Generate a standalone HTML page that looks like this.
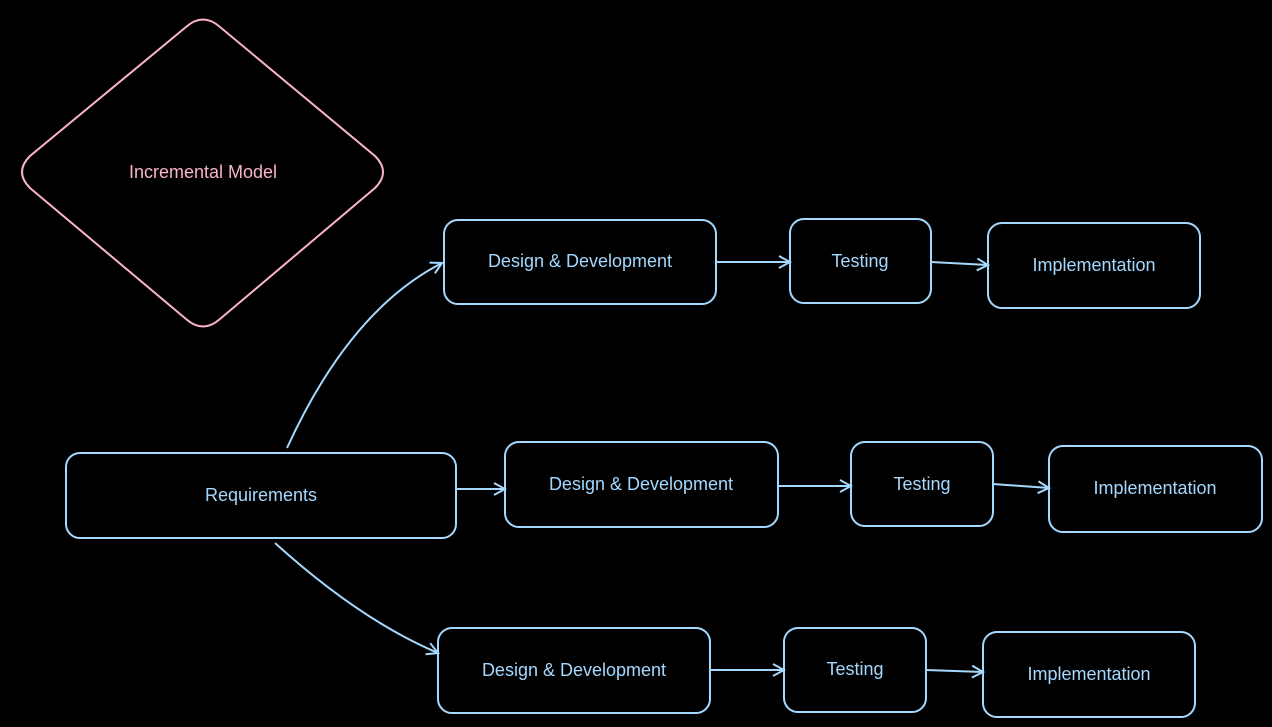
<!DOCTYPE html>
<html><head><meta charset="utf-8"><style>
html,body{margin:0;padding:0;background:#000;width:1272px;height:727px;overflow:hidden}
svg{display:block}
text{font-family:"Liberation Sans",sans-serif;font-size:18px;fill:#a5d8ff;text-anchor:middle;dominant-baseline:middle}
</style></head><body>
<svg width="1272" height="727" viewBox="0 0 1272 727">
<defs>
<marker id="a" markerWidth="14" markerHeight="14" refX="12" refY="7" orient="auto" markerUnits="userSpaceOnUse">
<path d="M1,1 L12,7 L1,13" fill="none" stroke="#a5d8ff" stroke-width="2"/>
</marker>
</defs>
<g fill="none" stroke="#f9b4c8" stroke-width="2">
<path d="M186,27 Q203,12 220,27 L375,156 Q391,172 375,188 L220,319 Q203,334 186,319 L30,188 Q14,172 30,156 Z"/>
</g>
<text x="203" y="173" style="fill:#f9b4c8">Incremental Model</text>
<g fill="none" stroke="#a5d8ff" stroke-width="2">
<rect x="444" y="220" width="272" height="84" rx="14"/>
<rect x="790" y="219" width="141" height="84" rx="14"/>
<rect x="988" y="223" width="212" height="85" rx="14"/>
<rect x="66" y="453" width="390" height="85" rx="14"/>
<rect x="505" y="442" width="273" height="85" rx="14"/>
<rect x="851" y="442" width="142" height="84" rx="14"/>
<rect x="1049" y="446" width="213" height="86" rx="14"/>
<rect x="438" y="628" width="272" height="85" rx="14"/>
<rect x="784" y="628" width="142" height="84" rx="14"/>
<rect x="983" y="632" width="212" height="85" rx="14"/>
<g marker-end="url(#a)">
<path d="M716,262 L790,262"/>
<path d="M931,262 L988,265"/>
<path d="M287,448 Q350,310 442,263"/>
<path d="M456,489 L505,489"/>
<path d="M778,486 L851,486"/>
<path d="M993,484 L1049,488"/>
<path d="M275,543 Q360,620 438,653"/>
<path d="M710,670 L784,670"/>
<path d="M926,670 L983,672"/>
</g>
</g>
<text x="580" y="262">Design &amp; Development</text>
<text x="860" y="262">Testing</text>
<text x="1094" y="266">Implementation</text>
<text x="261" y="496">Requirements</text>
<text x="641" y="485">Design &amp; Development</text>
<text x="922" y="485">Testing</text>
<text x="1155" y="489">Implementation</text>
<text x="574" y="671">Design &amp; Development</text>
<text x="855" y="670">Testing</text>
<text x="1089" y="675">Implementation</text>
</svg>
</body></html>
